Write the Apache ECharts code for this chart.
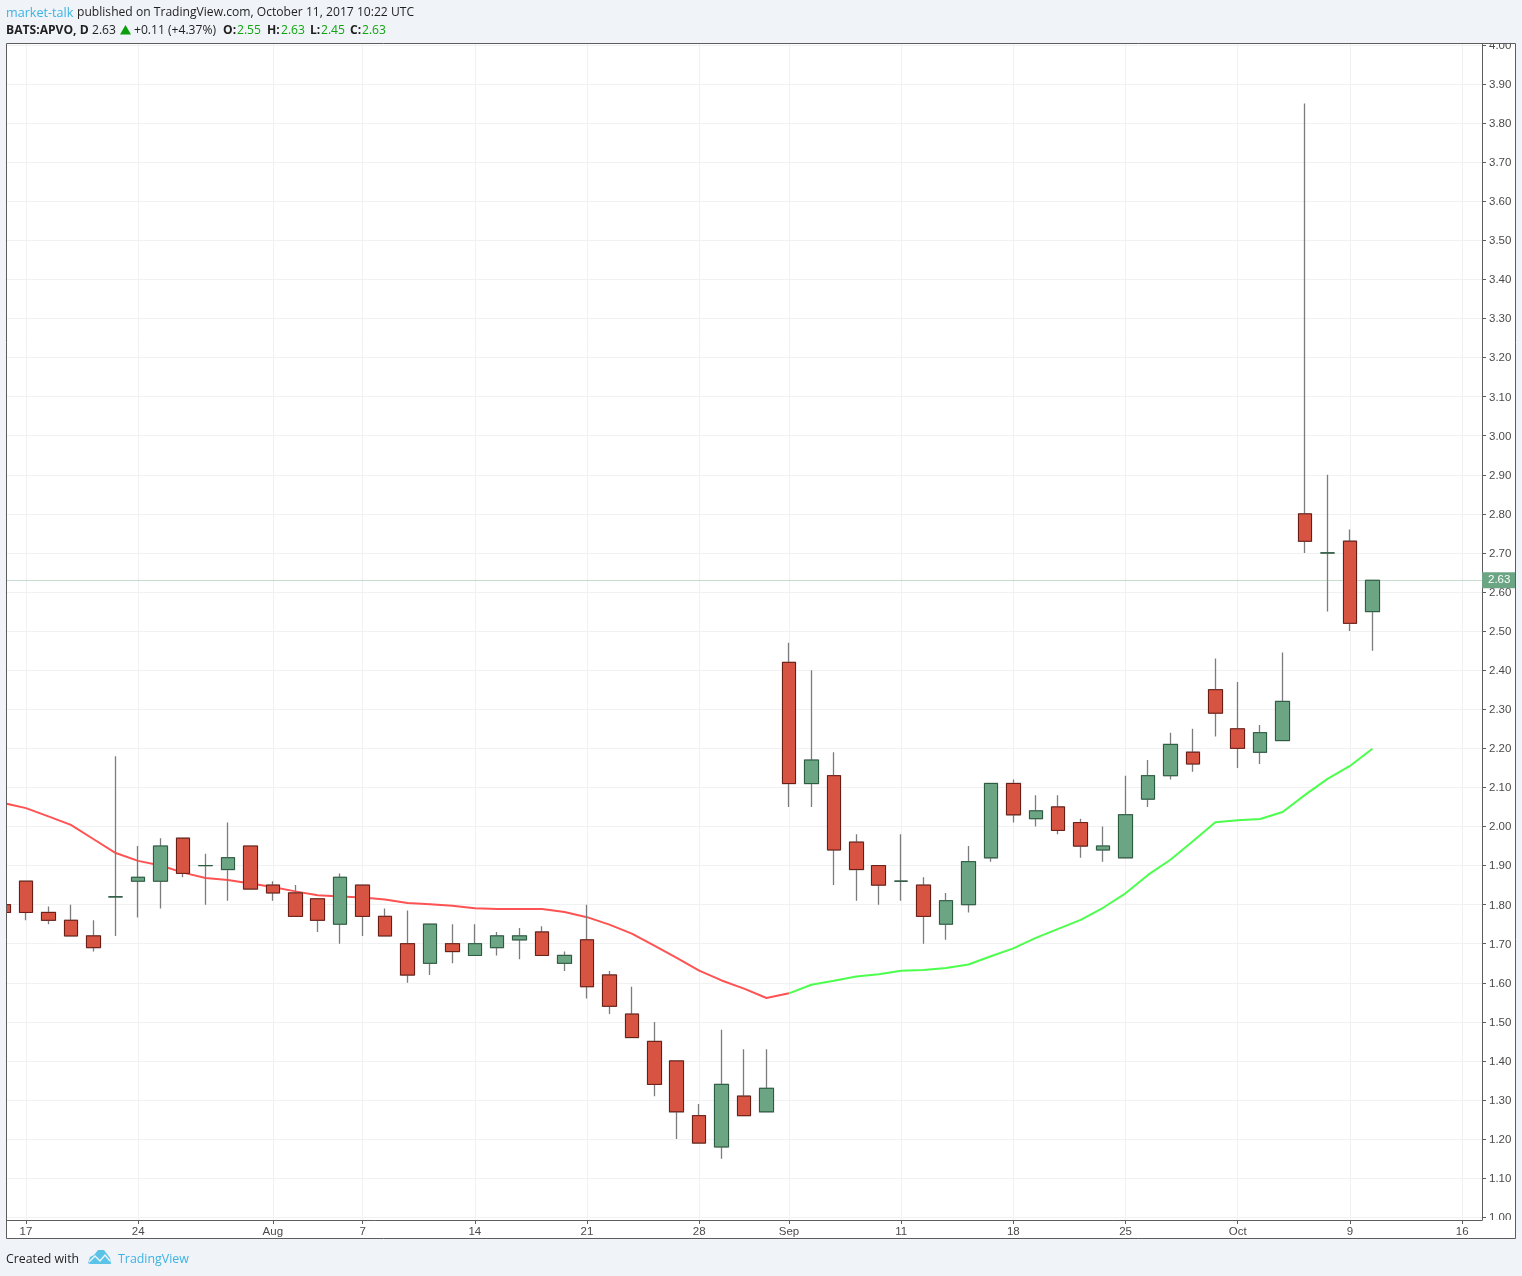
<!DOCTYPE html>
<html>
<head>
<meta charset="utf-8">
<title>BATS:APVO, D</title>
<script src="https://cdn.jsdelivr.net/npm/echarts@6/dist/echarts.min.js"></script>
<style>html,body{margin:0;padding:0;background:#f0f3f8}#c{width:1522px;height:1276px}</style>
</head>
<body>
<div id="c"></div>
<script>
// one value per trading day, Jul 14 to Oct 10 2017 (index 0 to 61)
const opens  = [1.80,1.86,1.78,1.76,1.72,1.82,1.86,1.86,1.97,1.90,1.89,1.95,1.85,1.83,1.815,1.75,1.85,1.77,1.70,1.65,1.70,1.67,1.69,1.71,1.73,1.65,1.71,1.62,1.52,1.45,1.40,1.26,1.18,1.31,1.27,2.42,2.11,2.13,1.96,1.90,1.86,1.85,1.75,1.80,1.92,2.11,2.02,2.05,2.01,1.94,1.92,2.07,2.13,2.19,2.35,2.25,2.19,2.22,2.80,2.70,2.73,2.55];
const closes = [1.78,1.78,1.76,1.72,1.69,1.82,1.87,1.95,1.88,1.90,1.92,1.84,1.83,1.77,1.76,1.87,1.77,1.72,1.62,1.75,1.68,1.70,1.72,1.72,1.67,1.67,1.59,1.54,1.46,1.34,1.27,1.19,1.34,1.26,1.33,2.11,2.17,1.94,1.89,1.85,1.86,1.77,1.81,1.91,2.11,2.03,2.04,1.99,1.95,1.95,2.03,2.13,2.21,2.16,2.29,2.20,2.24,2.32,2.73,2.70,2.52,2.63];
const lows   = [1.78,1.76,1.75,1.72,1.68,1.72,1.767,1.79,1.87,1.80,1.81,1.84,1.81,1.77,1.73,1.70,1.72,1.72,1.60,1.62,1.65,1.67,1.67,1.66,1.67,1.63,1.56,1.52,1.46,1.31,1.20,1.19,1.15,1.26,1.27,2.05,2.05,1.85,1.81,1.80,1.81,1.70,1.71,1.78,1.91,2.01,2.00,1.98,1.92,1.91,1.92,2.05,2.12,2.14,2.23,2.15,2.16,2.22,2.70,2.55,2.50,2.45];
const highs  = [1.80,1.86,1.795,1.80,1.76,2.18,1.95,1.97,1.97,1.93,2.01,1.95,1.86,1.85,1.815,1.88,1.85,1.79,1.785,1.75,1.75,1.75,1.73,1.74,1.745,1.68,1.80,1.63,1.59,1.50,1.40,1.29,1.48,1.43,1.43,2.47,2.40,2.19,1.98,1.90,1.98,1.87,1.83,1.95,2.11,2.12,2.08,2.08,2.02,2.00,2.13,2.17,2.24,2.25,2.43,2.37,2.26,2.445,3.85,2.90,2.76,2.63];
const redAvg = [2.06,2.047,2.026,2.004,1.968,1.932,1.912,1.90,1.882,1.868,1.863,1.854,1.845,1.834,1.824,1.821,1.818,1.813,1.804,1.801,1.797,1.791,1.789,1.789,1.789,1.781,1.768,1.749,1.726,1.695,1.664,1.631,1.606,1.585,1.561,1.573];
const greenAvg = [1.573,1.595,1.605,1.616,1.622,1.631,1.633,1.638,1.647,1.668,1.688,1.715,1.738,1.761,1.792,1.829,1.876,1.915,1.962,2.011,2.016,2.019,2.037,2.081,2.122,2.155,2.199];
const greenStart = 35;
const lastPrice = 2.63;
const xTickIndex = [1,6,12,16,21,26,31,35,40,45,50,55,60,65];
const xTickLabels = ['17','24','Aug','7','14','21','28','Sep','11','18','25','Oct','9','16'];
const yTicks = [1.00,1.10,1.20,1.30,1.40,1.50,1.60,1.70,1.80,1.90,2.00,2.10,2.20,2.30,2.40,2.50,2.60,2.70,2.80,2.90,3.00,3.10,3.20,3.30,3.40,3.50,3.60,3.70,3.80,3.90,4.00];

const RED='#D75442', GREEN='#6BA583', RED_B='#6b1d14', GREEN_B='#2a5c40', WICK='#7c7c7e';
const FRAME='#5d5d5d', GRIDC='#f0f1f3', TXT='#4a4a4a', PAGE='#f0f3f8';
const AF='"Liberation Sans",Arial,sans-serif';
const wickData = opens.map((o,i)=>[i,o,closes[i],lows[i],highs[i]]);
const bodyData = opens.map((o,i)=>[i,o,closes[i],Math.min(o,closes[i]),Math.max(o,closes[i])]);
const redLine = redAvg.map((v,i)=>[i,v]);
const greenLine = greenAvg.map((v,i)=>[i+greenStart,v]);

const HF='"Open Sans",sans-serif';
function t(x,y,text,fill,weight,size){
  return {type:'text',x:x,y:y+2,z:31,silent:true,style:{text:text,fill:fill||'#1f1f1f',font:(weight||'normal')+' '+(size||12.12)+'px '+HF,textVerticalAlign:'middle'}};
}
const UP='#11a511', LOGO='#5cc3e8';
const graphic=[
  {type:'rect',z:-20,silent:true,shape:{x:6.5,y:43.5,width:1509,height:1195},style:{fill:'#fff',stroke:null}},
  {type:'rect',z:30,silent:true,shape:{x:0,y:0,width:1522,height:43},style:{fill:PAGE}},
  {type:'rect',z:30,silent:true,shape:{x:0,y:43,width:6,height:1200},style:{fill:PAGE}},
  {type:'rect',z:30,silent:true,shape:{x:1483,y:1220,width:32,height:18},style:{fill:'#fff'}},
  {type:'rect',z:32,silent:true,shape:{x:6.5,y:43.5,width:1509,height:1195},style:{fill:null,stroke:FRAME,lineWidth:1}},
  t(6,11,'market-talk','#3bb3e4','normal',12.6),
  t(77,11,'published on TradingView.com, October 11, 2017 10:22 UTC'),
  t(6,29,'BATS:APVO, D','#1f1f1f','bold'),
  t(92,29,'2.63'),
  {type:'polygon',z:31,silent:true,shape:{points:[[120,34.5],[131,34.5],[125.5,25]]},style:{fill:'#0a9e0a'}},
  t(134,29,'+0.11 (+4.37%)'),
  t(223,29,'O:','#1f1f1f','bold'), t(237,29,'2.55',UP),
  t(267,29,'H:','#1f1f1f','bold'), t(281,29,'2.63',UP),
  t(310,29,'L:','#1f1f1f','bold'), t(321,29,'2.45',UP),
  t(350,29,'C:','#1f1f1f','bold'), t(362,29,'2.63',UP),
  t(6,1257,'Created with','#1f1f1f','normal',12.3),
  {type:'polygon',z:31,silent:true,shape:{points:[[88,1263],[90,1257],[94,1255],[98,1250],[104,1250],[107,1254],[110,1258],[111,1264],[90,1264]]},style:{fill:LOGO}},
  {type:'polyline',z:31,silent:true,shape:{points:[[89,1262],[95,1256],[100,1261],[105,1255],[110,1261]]},style:{fill:null,stroke:PAGE,lineWidth:1.4}},
  t(118,1257,'TradingView','#3bb3e4','normal',12.4)
];

const chart=echarts.init(document.getElementById('c'),null,{renderer:'canvas'});
chart.setOption({
  animation:false,
  backgroundColor:PAGE,
  graphic:graphic,
  grid:{left:6,right:40,top:43,bottom:56,containLabel:false},
  xAxis:{
    type:'value',min:0.11,max:65.885,
    axisLine:{onZero:false,lineStyle:{color:FRAME,width:1}},
    axisTick:{show:true,length:4,customValues:xTickIndex,lineStyle:{color:FRAME}},
    axisLabel:{show:true,customValues:xTickIndex,margin:6,color:TXT,fontFamily:AF,fontSize:11.5,
      formatter:v=>xTickLabels[xTickIndex.indexOf(v)]},
    splitLine:{show:true,lineStyle:{color:GRIDC,width:1}}
  },
  yAxis:{
    type:'value',position:'right',min:0.993,max:4.005,
    axisLine:{show:true,onZero:false,lineStyle:{color:FRAME,width:1}},
    axisTick:{show:true,length:4,customValues:yTicks,lineStyle:{color:FRAME}},
    axisLabel:{show:true,customValues:yTicks,margin:7,color:TXT,fontFamily:AF,fontSize:11.5,
      formatter:v=>'{v|'+v.toFixed(2)+'}',
      rich:{v:{color:TXT,fontFamily:AF,fontSize:11.5,padding:[1.5,0,0,0]}}},
    splitLine:{show:true,lineStyle:{color:GRIDC,width:1}}
  },
  series:[
    {type:'line',name:'MA falling',z:3,data:redLine,symbol:'none',lineStyle:{color:'#ff5252',width:2},clip:true},
    {type:'line',name:'MA rising',z:3,data:greenLine,symbol:'none',lineStyle:{color:'#4cff4c',width:2},clip:true},
    {type:'candlestick',name:'APVO wicks',z:4,data:wickData,barWidth:14,clip:true,
      itemStyle:{color:'rgba(0,0,0,0)',color0:'rgba(0,0,0,0)',borderColor:WICK,borderColor0:WICK,borderColorDoji:WICK,borderWidth:1.3}},
    {type:'candlestick',name:'APVO',z:5,data:bodyData,barWidth:14,clip:true,
      itemStyle:{color:GREEN,color0:RED,borderColor:GREEN_B,borderColor0:RED_B,borderColorDoji:GREEN_B,borderWidth:1},
      markLine:{silent:true,symbol:'none',animation:false,
        lineStyle:{color:'rgba(107,165,131,0.38)',type:'solid',width:1},
        label:{show:true,position:'end',distance:0,formatter:lastPrice.toFixed(2),color:'#fff',backgroundColor:GREEN,
          fontFamily:AF,fontSize:11.5,width:27,height:15,lineHeight:16,align:'left',padding:[1,0,0,6]},
        data:[{yAxis:lastPrice}]}}
  ]
});
</script>
</body>
</html>
